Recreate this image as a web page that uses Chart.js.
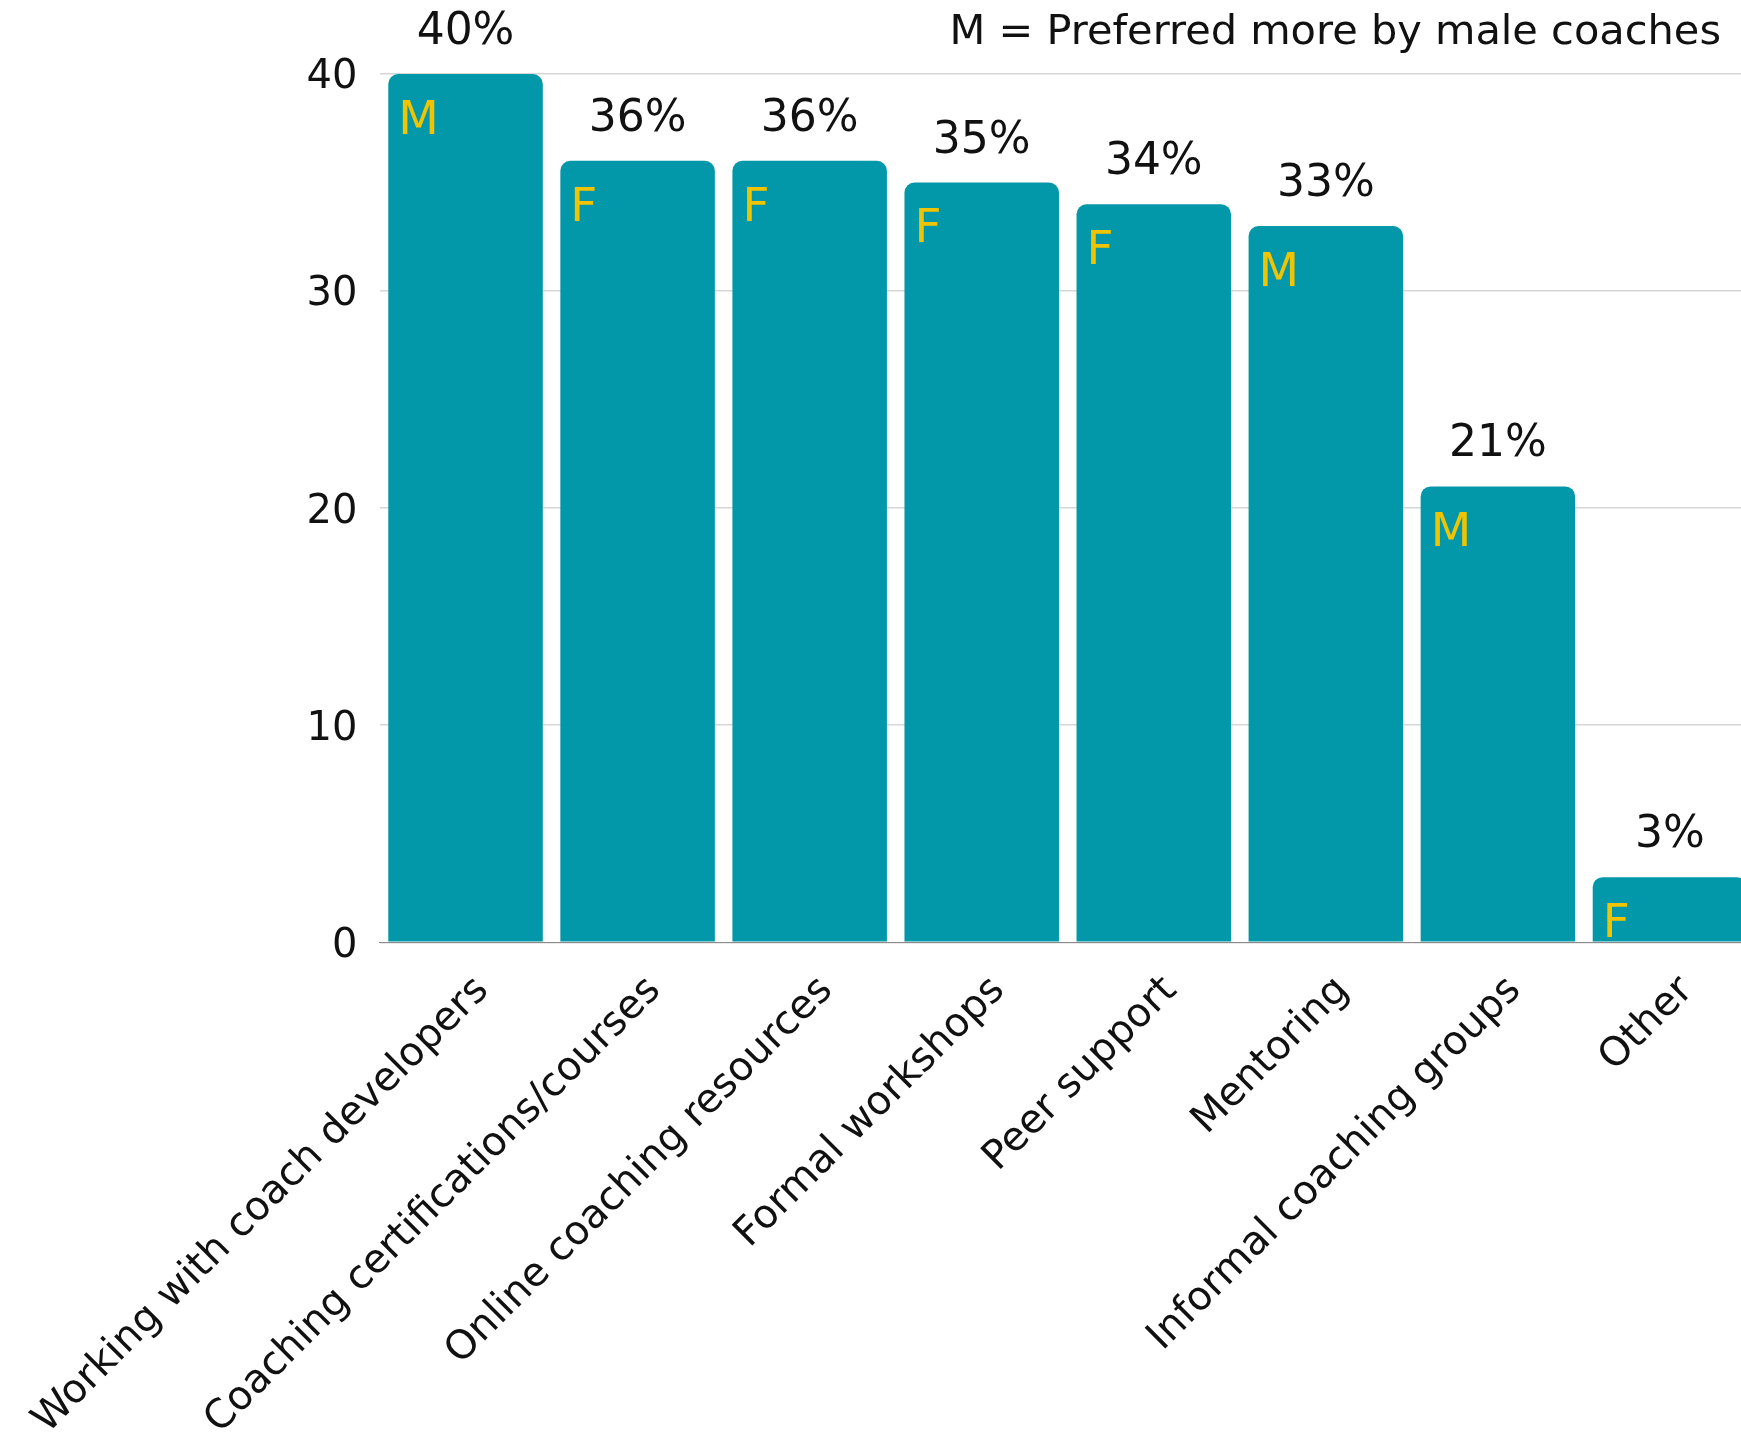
<!DOCTYPE html>
<html lang="en">

<head>
  <meta charset="UTF-8">
  <meta name="viewport" content="width=device-width, initial-scale=1.0">
  <script src="https://cdn.jsdelivr.net/npm/chart.js"></script>
  <title>Preferred coach development</title>
  <style>
    html, body { margin: 0; padding: 0; overflow: hidden; background: #fff; }
    #wrap { position: relative; width: 1756px; height: 1435px; }
  </style>
</head>

<body>
  <div id="wrap"><canvas id="grafico"></canvas></div>
  <script>
    const categorias = ["Working with coach developers", "Coaching certifications/courses", "Online coaching resources",
      "Formal workshops", "Peer support", "Mentoring", "Informal coaching groups", "Other"];
    const valores = [40, 36, 36, 35, 34, 33, 21, 3];
    const preferencia = ["M", "F", "F", "F", "F", "M", "M", "F"];
    const ticksY = [0, 10, 20, 30, 40];
    const legenda = "M = Preferred more by male coaches";

    const fonte = "'DejaVu Sans', sans-serif";
    const corBarra = '#0298a9';
    const corLetra = '#f0c400';

    // labels above bars + M/F letter inside + key text top right
    const rotulos = {
      id: 'rotulos',
      afterDatasetsDraw(chart) {
        const ctx = chart.ctx;
        const meta = chart.getDatasetMeta(0);
        ctx.save();
        meta.data.forEach((bar, i) => {
          const left = bar.x - bar.width / 2;
          ctx.fillStyle = '#111';
          ctx.font = "44px " + fonte;
          ctx.textAlign = 'center';
          ctx.textBaseline = 'alphabetic';
          ctx.fillText(valores[i] + '%', bar.x, bar.y - 30);

          ctx.fillStyle = corLetra;
          ctx.font = "47px " + fonte;
          ctx.textAlign = 'left';
          ctx.textBaseline = 'top';
          ctx.fillText(preferencia[i], left + 10, bar.y + 24);
        });
        ctx.fillStyle = '#111';
        ctx.font = "41.5px " + fonte;
        ctx.textAlign = 'right';
        ctx.textBaseline = 'alphabetic';
        ctx.fillText(legenda, 1721, 44);
        ctx.restore();
      }
    };

    const ctx = document.getElementById('grafico');
    let grafico1 = new Chart(ctx, {
      type: 'bar',
      data: {
        labels: categorias,
        datasets: [{
          data: valores,
          backgroundColor: corBarra,
          borderRadius: { topLeft: 10, topRight: 10 },
          borderSkipped: 'start',
          categoryPercentage: 1,
          barPercentage: 0.898
        }]
      },
      options: {
        responsive: true,
        maintainAspectRatio: false,
        animation: false,
        layout: { padding: { top: 74, right: 0, bottom: 0, left: 0 } },
        plugins: {
          legend: { display: false },
          tooltip: { enabled: false }
        },
        scales: {
          x: {
            grid: { display: false },
            border: { display: true, color: '#8a8a8a', width: 1 },
            ticks: {
              color: '#111',
              font: { family: fonte, size: 40 },
              minRotation: 45,
              maxRotation: 45,
              autoSkip: false,
              padding: 17,
              labelOffset: 17
            },
            afterFit(scale) {
              scale.height = 492.7;
              scale.paddingLeft = 0;
              scale.paddingRight = 0;
            }
          },
          y: {
            min: 0,
            max: 40,
            afterBuildTicks(scale) { scale.ticks = ticksY.map(v => ({ value: v })); },
            grid: { color: '#d6d6d6', lineWidth: 1.5, drawTicks: false },
            border: { display: false },
            ticks: {
              color: '#111',
              font: { family: fonte, size: 40 },
              padding: 22,
              labelOffset: 4
            },
            afterFit(scale) { scale.width = 379.5; }
          }
        }
      },
      plugins: [rotulos]
    });
  </script>

</body>

</html>
